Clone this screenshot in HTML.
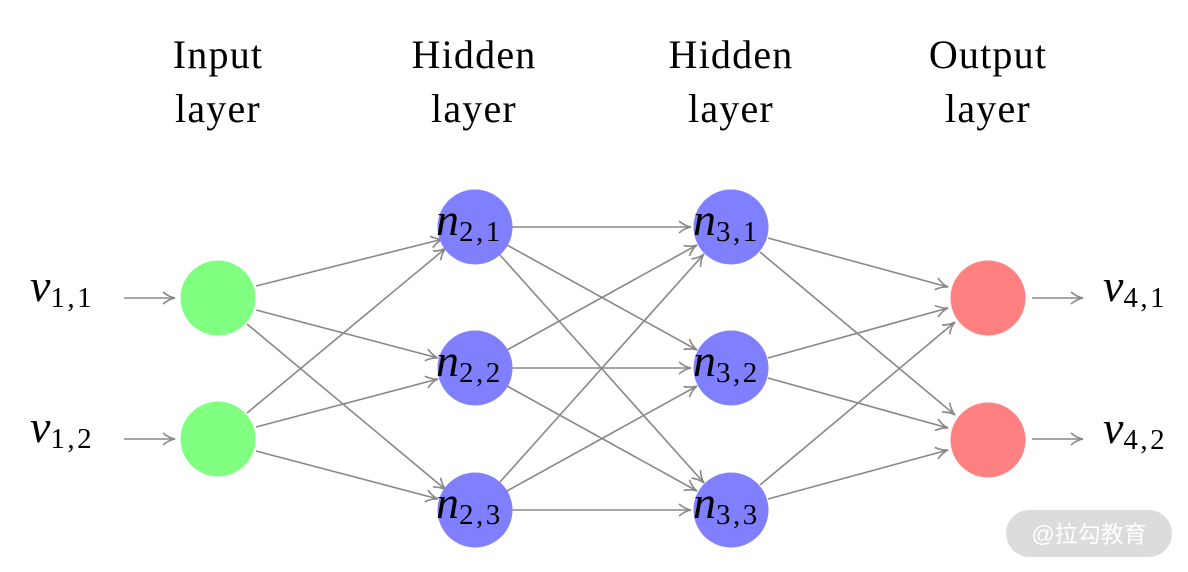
<!DOCTYPE html>
<html><head><meta charset="utf-8"><style>
html,body{margin:0;padding:0;background:#fff;}
svg{display:block}
</style></head><body>
<svg width="1188" height="572" viewBox="0 0 1188 572" xmlns="http://www.w3.org/2000/svg">
<defs>
<marker id="a" viewBox="0 0 14 14" refX="13" refY="7" markerWidth="14" markerHeight="14" markerUnits="userSpaceOnUse" orient="auto">
<path d="M1,1 Q7,6 13,7 Q7,8 1,13" fill="none" stroke="#888" stroke-width="1.6"/>
</marker>
</defs>
<g font-family="Liberation Serif, serif" font-size="40" fill="#000" text-anchor="middle" letter-spacing="1.2">
<text x="218" y="68">Input</text><text x="218" y="122">layer</text>
<text x="474" y="68">Hidden</text><text x="474" y="122">layer</text>
<text x="731" y="68">Hidden</text><text x="731" y="122">layer</text>
<text x="988" y="68">Output</text><text x="988" y="122">layer</text>
</g>
<g stroke="#888" stroke-width="1.6" marker-end="url(#a)">
<line x1="124" y1="298" x2="175" y2="298"/>
<line x1="124" y1="439" x2="175" y2="439"/>
<line x1="1032" y1="298" x2="1083" y2="298"/>
<line x1="1032" y1="439" x2="1083" y2="439"/>
<line x1="256" y1="286" x2="443" y2="239"/>
<line x1="256" y1="310" x2="438" y2="358"/>
<line x1="247" y1="324" x2="446" y2="490"/>
<line x1="247" y1="413" x2="446" y2="248"/>
<line x1="256" y1="427" x2="438" y2="379"/>
<line x1="256" y1="451" x2="438" y2="499"/>
<line x1="512" y1="227" x2="691" y2="227"/>
<line x1="507" y1="245" x2="697" y2="350"/>
<line x1="500" y1="255" x2="704" y2="483"/>
<line x1="507" y1="350" x2="697" y2="245"/>
<line x1="512" y1="368" x2="691" y2="368"/>
<line x1="507" y1="386" x2="697" y2="491"/>
<line x1="500" y1="482" x2="704" y2="254"/>
<line x1="507" y1="491" x2="697" y2="386"/>
<line x1="512" y1="510" x2="691" y2="510"/>
<line x1="768" y1="238" x2="948" y2="287"/>
<line x1="760" y1="252" x2="955" y2="415"/>
<line x1="768" y1="358" x2="948" y2="308"/>
<line x1="768" y1="378" x2="948" y2="428"/>
<line x1="760" y1="485" x2="955" y2="322"/>
<line x1="768" y1="499" x2="948" y2="450"/>
</g>
<g>
<circle cx="218" cy="298" r="37.5" fill="#80ff80"/>
<circle cx="218" cy="439" r="37.5" fill="#80ff80"/>
<circle cx="475" cy="227" r="37.5" fill="#8080ff"/>
<circle cx="475" cy="368" r="37.5" fill="#8080ff"/>
<circle cx="475" cy="510" r="37.5" fill="#8080ff"/>
<circle cx="731" cy="227" r="37.5" fill="#8080ff"/>
<circle cx="731" cy="368" r="37.5" fill="#8080ff"/>
<circle cx="731" cy="510" r="37.5" fill="#8080ff"/>
<circle cx="988" cy="298" r="37.5" fill="#ff8080"/>
<circle cx="988" cy="440" r="37.5" fill="#ff8080"/>
</g>
<g font-family="Liberation Serif, serif" fill="#000">
<text x="436" y="235"><tspan font-style="italic" font-size="46">n</tspan><tspan font-size="29" dy="6" letter-spacing="2.5">2,1</tspan></text>
<text x="436" y="376"><tspan font-style="italic" font-size="46">n</tspan><tspan font-size="29" dy="6" letter-spacing="2.5">2,2</tspan></text>
<text x="436" y="518"><tspan font-style="italic" font-size="46">n</tspan><tspan font-size="29" dy="6" letter-spacing="2.5">2,3</tspan></text>
<text x="693" y="235"><tspan font-style="italic" font-size="46">n</tspan><tspan font-size="29" dy="6" letter-spacing="2.5">3,1</tspan></text>
<text x="693" y="376"><tspan font-style="italic" font-size="46">n</tspan><tspan font-size="29" dy="6" letter-spacing="2.5">3,2</tspan></text>
<text x="693" y="518"><tspan font-style="italic" font-size="46">n</tspan><tspan font-size="29" dy="6" letter-spacing="2.5">3,3</tspan></text>
<text x="30" y="301"><tspan font-style="italic" font-size="46">v</tspan><tspan font-size="29" dy="6" letter-spacing="2.5">1,1</tspan></text>
<text x="30" y="442"><tspan font-style="italic" font-size="46">v</tspan><tspan font-size="29" dy="6" letter-spacing="2.5">1,2</tspan></text>
<text x="1103" y="301"><tspan font-style="italic" font-size="46">v</tspan><tspan font-size="29" dy="6" letter-spacing="2.5">4,1</tspan></text>
<text x="1103" y="443"><tspan font-style="italic" font-size="46">v</tspan><tspan font-size="29" dy="6" letter-spacing="2.5">4,2</tspan></text>
</g>
<rect x="1006" y="510" width="166" height="47" rx="23.5" fill="#dcdcdc"/>
<text x="1089" y="542" text-anchor="middle" font-family="Liberation Sans, Noto Sans CJK SC, sans-serif" font-size="23" fill="#fff">@拉勾教育</text>
</svg>
</body></html>
